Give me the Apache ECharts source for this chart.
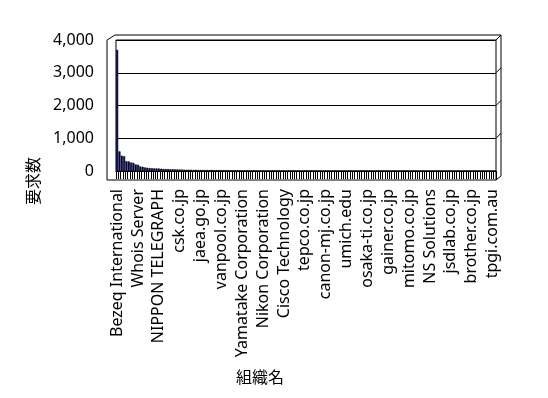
<!DOCTYPE html>
<html>
<head>
<meta charset="utf-8">
<script src="https://cdn.jsdelivr.net/npm/echarts@6/dist/echarts.min.js"></script>
<style>
    html, body { margin: 0; padding: 0; background: #fff; }
    #chart_div { width: 548px; height: 398px; }
</style>
</head>
<body>
<div id="chart_div"></div>
<script>
// labelled organisations (every 9th category is labelled on the axis)
var labelNames = [
    'Bezeq International', 'Whois Server', 'NIPPON TELEGRAPH', 'csk.co.jp', 'jaea.go.jp',
    'vanpool.co.jp', 'Yamatake Corporation', 'Nikon Corporation', 'Cisco Technology', 'tepco.co.jp',
    'canon-mj.co.jp', 'umich.edu', 'osaka-ti.co.jp', 'gainer.co.jp', 'mitomo.co.jp',
    'NS Solutions', 'jsdlab.co.jp', 'brother.co.jp', 'tpgi.com.au'
];
var labelStep = 9;

// request counts per organisation, sorted
var requests = [
    3700, 600, 470, 450, 300, 290, 260, 250, 200, 190,
    140, 130, 110, 100, 90, 85, 80, 80, 75, 70,
    65, 60, 60, 55, 55, 50, 50, 45, 45, 42,
    40, 40, 38, 36, 35, 34, 33, 32, 31, 30,
    30, 29, 28, 28, 27, 27, 26, 26, 25, 25,
    24, 24, 23, 23, 22, 22, 22, 21, 21, 21,
    20, 20, 20, 19, 19, 19, 18, 18, 18, 18,
    17, 17, 17, 17, 16, 16, 16, 16, 15, 15,
    15, 15, 15, 14, 14, 14, 14, 14, 13, 13,
    13, 13, 13, 13, 12, 12, 12, 12, 12, 12,
    11, 11, 11, 11, 11, 11, 11, 10, 10, 10,
    10, 10, 10, 10, 10, 9, 9, 9, 9, 9,
    9, 9, 9, 9, 8, 8, 8, 8, 8, 8,
    8, 8, 8, 7, 7, 7, 7, 7, 7, 7,
    7, 7, 6, 6, 6, 6, 6, 6, 6, 6,
    6, 6, 5, 5, 5, 5, 5, 5, 5, 5,
    5, 5, 5, 4
];

var categories = requests.map(function (v, i) {
    return i % labelStep === 0 && labelNames[i / labelStep] ? labelNames[i / labelStep] : '#' + i;
});

var G = { left: 116, top: 40, width: 380, height: 131 };
var FONT = '"Noto Sans", "Liberation Sans", sans-serif';
var CJK = '"Noto Sans CJK JP", sans-serif';

var myChart = echarts.init(document.getElementById('chart_div'), null, { renderer: 'canvas' });

// 3D-ish frame around the plot
var L = G.left, T = G.top, R = G.left + G.width, B = G.top + G.height;
var frame = [
    { type: 'polyline', shape: { points: [[L - 9, B + 9], [L - 9, T], [L - 1, T - 5], [R + 5, T - 5], [R + 5, B + 5], [R, B + 9], [L - 9, B + 9]] },
      style: { stroke: '#000', fill: null, lineWidth: 1 }, silent: true },
    { type: 'line', shape: { x1: R, y1: T, x2: R + 5, y2: T - 5 }, style: { stroke: '#000' } },
    { type: 'line', shape: { x1: R, y1: B, x2: R, y2: B + 9 }, style: { stroke: '#000' } }
];
[1000, 2000, 3000].forEach(function (v) {
    var y = B - v / 4000 * G.height;
    frame.push({ type: 'line', shape: { x1: R, y1: y, x2: R + 5, y2: y - 5 }, style: { stroke: '#000' } });
});
frame.push({ type: 'text', x: 33, y: 181, rotation: Math.PI / 2,
    style: { text: '要求数', font: '16px ' + CJK, fill: '#000', align: 'center', verticalAlign: 'middle' } });
frame.push({ type: 'text', x: 260, y: 377,
    style: { text: '組織名', font: '16px ' + CJK, fill: '#000', align: 'center', verticalAlign: 'middle' } });

myChart.setOption({
    animation: false,
    grid: {
        left: G.left,
        top: G.top,
        width: G.width,
        height: G.height,
        show: true,
        borderColor: '#000',
        borderWidth: 1
    },
    xAxis: {
        type: 'category',
        data: categories,
        axisLine: { lineStyle: { color: '#000' } },
        axisTick: { show: true, interval: 0, length: 8, lineStyle: { color: '#000' } },
        axisLabel: {
            interval: labelStep - 1,
            rotate: 90,
            margin: 18,
            color: '#000',
            fontFamily: FONT,
            fontSize: 16
        }
    },
    yAxis: {
        type: 'value',
        min: 0,
        max: 4000,
        interval: 1000,
        axisLine: { show: false },
        axisTick: { show: false },
        splitLine: { lineStyle: { color: '#000', width: 1 } },
        axisLabel: {
            margin: 22,
            color: '#000',
            fontFamily: FONT,
            fontSize: 16,
            formatter: function (v) { return v.toLocaleString('en-US'); }
        }
    },
    series: [
        {
            name: '要求数',
            type: 'bar',
            data: requests,
            barCategoryGap: '10%',
            itemStyle: { color: '#000080', borderColor: '#000', borderWidth: 0.6 }
        }
    ],
    graphic: frame
});
</script>
</body>
</html>
